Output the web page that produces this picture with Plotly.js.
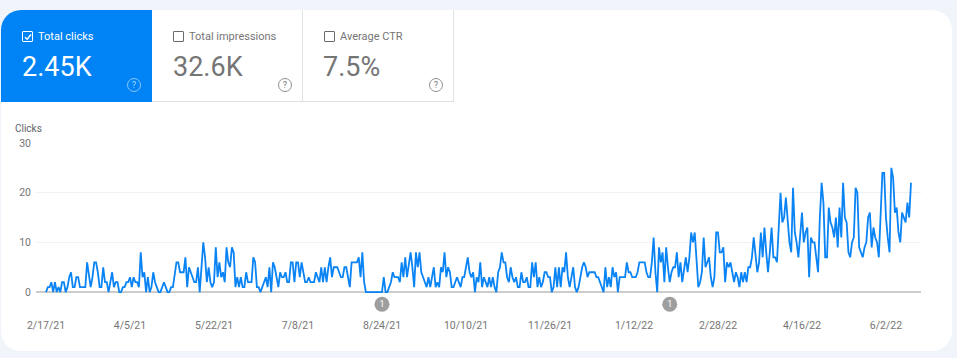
<!DOCTYPE html>
<html><head><meta charset="utf-8">
<script src="https://cdn.plot.ly/plotly-3.0.1.min.js"></script>
<style>
html,body{margin:0;padding:0;width:957px;height:358px;overflow:hidden;background:#f1f4fa;font-family:Roboto,sans-serif}
#card{position:absolute;left:1px;top:10px;width:951px;height:341px;background:#fff;border-radius:20px}
.tile{position:absolute;top:10px;height:92px;box-sizing:border-box;background:#fff;border-right:1px solid #dfe1e5;border-bottom:1px solid #dfe1e5;color:#757575}
#t1{left:1px;width:151px;background:#0084f5;border:none;border-top-left-radius:20px;color:#fff}
#t2{left:152px;width:151px}
#t3{left:303px;width:151px}
.box{position:absolute;left:21px;top:21px;width:9px;height:9px;border:1.4px solid #6b6b6b;border-radius:1px}
#t1 .box{border-color:#fff}
.lab{position:absolute;left:37px;top:20px;font-size:11px;line-height:14px;white-space:nowrap}
.num{position:absolute;left:21px;top:41px;font-size:27px;line-height:32px;white-space:nowrap}
#t3 .num{left:20px}
.q{position:absolute;left:126px;top:68px;width:12px;height:12px;border:1px solid #8f8f8f;border-radius:50%;font-size:9px;line-height:12px;text-align:center;color:#757575}
#t1 .q{border-color:#8cc6fb;color:#a8d4fc}
#chart{position:absolute;left:0;top:0;width:957px;height:358px}
</style></head><body>
<div id="card"></div>
<div class="tile" id="t1"><svg style="position:absolute;left:22px;top:22px" width="10" height="10" viewBox="0 0 10 10"><path d="M2 5.2 L4.2 7.2 L8 2.6" fill="none" stroke="#fff" stroke-width="1.5"/></svg><div class="box"></div><div class="lab">Total clicks</div><div class="num">2.45K</div><div class="q">?</div></div>
<div class="tile" id="t2"><div class="box"></div><div class="lab">Total impressions</div><div class="num">32.6K</div><div class="q">?</div></div>
<div class="tile" id="t3"><div class="box"></div><div class="lab">Average CTR</div><div class="num">7.5%</div><div class="q">?</div></div>
<div id="chart"></div>
<script>
const tickLabels = ["2/17/21","4/5/21","5/22/21","7/8/21","8/24/21","10/10/21","11/26/21","1/12/22","2/28/22","4/16/22","6/2/22"];
const tickDays = [0,47,94,141,188,235,282,329,376,423,470];
const yTicks = [0,10,20,30];
const clicksA = [0,1,1,2,0,2,0,1,0,2,2,0,1,3,4,1,1,3,3,1,1,1,1,6,3,1,3,6,6,4,1,1,5,2,2,0,2,4,1,2,2,0,0,1,1,2,2,3,1,3,2,2,1,8,3,4,0,3,0,1,4,2,1,0,0,1,2,1,0,0,1,1,4,6,6,4,4,4,7,1,5,4,3,2,2,5,0,5,10,7,2,5,2,1,2,9,3,6,3,4,2,9,6,5,9,8,1,3,1,3,1,1,4,2,2];
const clicksB = [2,7,6,1,1,0,1,2,3,1,5,0,6,5,3,1,4,3,3,4,2,2,6,6,2,6,6,3,6,4,2,2,3,2,2,2,4,3,2,5,2,5,2,5,7,3,5,5,5,4,3,3,5,5,3,1,6,6,6,6,7,3,8,2,0,0,0,0,0,0,0,0,0,0,3,0,0,1,2,4,3,3,3,2,6,3,7,3,6,8,5,1,8,5,8,4,3,2,1,3,1,3,5,1,2,1,5,4,8,3,5,4,1,1,2,3,2];
const clicksC = [1,3,3,5,7,4,3,4,0,3,2,6,1,3,2,1,3,1,3,1,0,4,5,8,6,6,3,2,5,3,2,3,1,1,4,2,2,3,1,1,6,3,6,1,3,1,2,4,4,3,3,0,1,5,1,5,1,5,4,8,3,1,3,5,1,0,1,3,5,6,5,3,4,4,4,4,3,3,2,1,0,5,1,3,1,5,3,4,0,3,3,3,3,6,4,4,3,3,3,4,6,6,6,6,4,3,3,6,11,4,0,9,6,8,2,9,5,2,4,5,5,8,3];
const clicksD = [6,2,5,7,4,7,12,10,12,6,1,2,4,11,5,6,7,3,1,3,12,12,8,8,9,2,6,5,6,4,2,4,3,1,4,2,4,2,5,5,7,11,8,4,6,12,7,13,8,4,8,13,7,7,6,14,20,14,15,19,15,10,8,21,12,10,7,12,16,10,12,13,3,11,10,10,7,4,15,22,18,7,7,17,14,13,11,15,9,17,11,22,15,14,8,7,10,11,21,20,9,8,7,9,10,15,16,9,13,11,10,7,15,24,24,15,11,8,25,23,16,17,12,10,16,15,14,18,15,22];
const clicks = clicksA.concat(clicksB, clicksC, clicksD);
const days = clicks.map((_, i) => i);
const noteDays = [188, 349];
const noteText = ["1","1"];
const noteLevel = [-2.45,-2.45];

Plotly.newPlot('chart',[
 {type:'scatter',mode:'lines',x:days,y:clicks,line:{color:'#0a84f4',width:1.8,shape:'linear'},hoverinfo:'skip'},
 {type:'scatter',mode:'markers+text',x:noteDays,y:noteLevel,text:noteText,
  marker:{size:15,color:'#9e9e9e'},textposition:'middle center',textfont:{family:'Roboto',size:9,color:'#fff'},hoverinfo:'skip'}
],{
 width:957,height:358,showlegend:false,paper_bgcolor:'rgba(0,0,0,0)',plot_bgcolor:'rgba(0,0,0,0)',
 margin:{l:36,r:36,t:143.3,b:46,pad:0},
 font:{family:'Roboto',size:10.5,color:'#757575'},
 xaxis:{range:[-5.6,489.6],tickmode:'array',tickvals:tickDays,ticktext:tickLabels,showgrid:false,zeroline:false,showline:false,ticks:'',ticklen:0,tickangle:0,fixedrange:true,tickfont:{size:10.5,color:'#757575'},automargin:false,title:{text:''},ticklabelposition:'outside',ticklabelstandoff:5},
 yaxis:{range:[-4,30],tickmode:'array',tickvals:yTicks,showgrid:true,gridcolor:'#f2f2f2',gridwidth:1,zeroline:true,zerolinecolor:'#cccccc',zerolinewidth:2,showline:false,ticks:'',tickfont:{size:10.5,color:'#757575'},ticklabelstandoff:4,fixedrange:true,automargin:false},
 annotations:[{text:'Clicks',xref:'paper',yref:'paper',x:-0.0255,y:1.083,xanchor:'left',yanchor:'middle',showarrow:false,font:{family:'Roboto',size:10,color:'#5f6368'}}]
},{displayModeBar:false,staticPlot:true});
</script>
</body></html>
